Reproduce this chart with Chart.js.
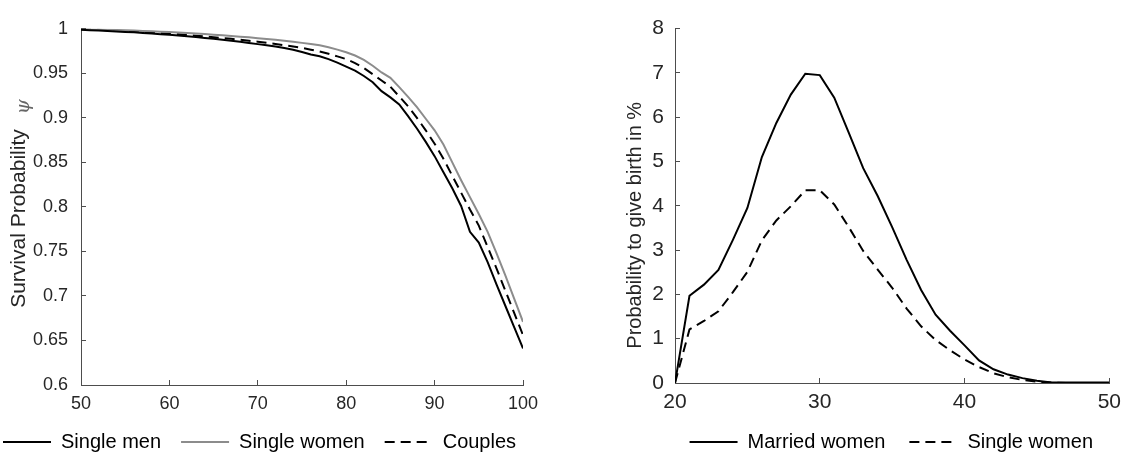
<!DOCTYPE html>
<html>
<head>
<meta charset="utf-8">
<script src="https://cdn.jsdelivr.net/npm/chart.js@4.4.1/dist/chart.umd.min.js"></script>
<style>
  html, body { margin: 0; padding: 0; background: #fff; width: 1133px; height: 457px; overflow: hidden; position: relative; }
  canvas { position: absolute; top: 0; }
  #survival { left: -17px; }
  #fertility { left: 560px; }
</style>
</head>
<body>
<canvas id="survival" width="577" height="462"></canvas>
<canvas id="fertility" width="573" height="462"></canvas>
<script>
// left panel: survival probability by age
const survivalAges = [50, 51, 52, 53, 54, 55, 56, 57, 58, 59, 60, 61, 62, 63, 64, 65, 66, 67, 68, 69,
  70, 71, 72, 73, 74, 75, 76, 77, 78, 79, 80, 81, 82, 83, 84, 85, 86, 87, 88, 89,
  90, 91, 92, 93, 94, 95, 96, 97, 98, 99, 100];
const singleMen = [0.9990, 0.9985, 0.9980, 0.9975, 0.9970, 0.9965, 0.9960, 0.9953, 0.9946, 0.9939,
  0.9932, 0.9924, 0.9916, 0.9907, 0.9898, 0.9888, 0.9877, 0.9866, 0.9854, 0.9841,
  0.9828, 0.9814, 0.9800, 0.9784, 0.9765, 0.9740, 0.9712, 0.9692, 0.9660, 0.9620,
  0.9575, 0.9530, 0.9470, 0.9400, 0.9300, 0.9230, 0.9150, 0.9020, 0.8880, 0.8730,
  0.8570, 0.8390, 0.8210, 0.8010, 0.7720, 0.7600, 0.7380, 0.7130, 0.6890, 0.6650, 0.6410];
const singleWomen = [0.9997, 0.9995, 0.9993, 0.9990, 0.9987, 0.9984, 0.9980, 0.9976, 0.9972, 0.9968,
  0.9963, 0.9958, 0.9953, 0.9947, 0.9941, 0.9934, 0.9927, 0.9920, 0.9912, 0.9904,
  0.9895, 0.9886, 0.9876, 0.9865, 0.9854, 0.9842, 0.9830, 0.9815, 0.9792, 0.9766,
  0.9737, 0.9700, 0.9650, 0.9585, 0.9510, 0.9450, 0.9345, 0.9235, 0.9120, 0.8990,
  0.8860, 0.8700, 0.8500, 0.8300, 0.8110, 0.7920, 0.7720, 0.7480, 0.7230, 0.6970, 0.6710];
const couples = [0.9995, 0.9992, 0.9988, 0.9984, 0.9979, 0.9974, 0.9969, 0.9963, 0.9957, 0.9951,
  0.9945, 0.9938, 0.9931, 0.9923, 0.9915, 0.9906, 0.9897, 0.9887, 0.9877, 0.9866,
  0.9855, 0.9843, 0.9830, 0.9816, 0.9800, 0.9785, 0.9765, 0.9745, 0.9720, 0.9690,
  0.9660, 0.9615, 0.9560, 0.9490, 0.9420, 0.9350, 0.9240, 0.9130, 0.9000, 0.8860,
  0.8710, 0.8540, 0.8350, 0.8160, 0.7970, 0.7790, 0.7550, 0.7310, 0.7060, 0.6810, 0.6560];
const survivalXTicks = [50, 60, 70, 80, 90, 100];
const survivalXLabels = ['50', '60', '70', '80', '90', '100'];
const survivalYTicks = [0.6, 0.65, 0.7, 0.75, 0.8, 0.85, 0.9, 0.95, 1];
const survivalYLabels = ['0.6', '0.65', '0.7', '0.75', '0.8', '0.85', '0.9', '0.95', '1'];

// right panel: probability to give birth (%) by age
const birthAges = [20, 21, 22, 23, 24, 25, 26, 27, 28, 29, 30, 31, 32, 33, 34, 35, 36, 37, 38, 39,
  40, 41, 42, 43, 44, 45, 46, 47, 48, 49, 50];
const marriedWomen = [0, 1.97, 2.22, 2.55, 3.23, 3.95, 5.10, 5.87, 6.51, 6.98, 6.95,
  6.44, 5.65, 4.85, 4.22, 3.52, 2.78, 2.10, 1.54, 1.18, 0.85,
  0.51, 0.31, 0.19, 0.11, 0.05, 0.01, 0.01, 0.01, 0.01, 0.01];
const singleWomenBirth = [0, 1.21, 1.40, 1.62, 2.05, 2.51, 3.22, 3.67, 3.99, 4.35, 4.35,
  4.03, 3.52, 2.98, 2.56, 2.15, 1.68, 1.28, 0.97, 0.74, 0.53,
  0.36, 0.22, 0.13, 0.07, 0.03, 0.01, 0, 0, 0, 0];
const birthXTicks = [20, 30, 40, 50];
const birthXLabels = ['20', '30', '40', '50'];
const birthYTicks = [0, 1, 2, 3, 4, 5, 6, 7, 8];
const birthYLabels = ['0', '1', '2', '3', '4', '5', '6', '7', '8'];

const AXIS = '#4d4d4d';
const TEXT = '#262626';
const FONT = "'Liberation Sans', Arial, sans-serif";

const pairs = (xs, ys) => xs.map((x, i) => ({ x, y: ys[i] }));

function axis(min, max, ticks, labels, size, pad, extra) {
  return Object.assign({
    type: 'linear', min, max,
    afterBuildTicks: s => { s.ticks = ticks.map(v => ({ value: v })); },
    ticks: { color: TEXT, font: { family: FONT, size }, padding: pad, autoSkip: false, maxRotation: 0,
      callback: (v, i) => labels[i] },
    grid: { drawOnChartArea: false, tickLength: -5, color: AXIS, lineWidth: 1 },
    border: { color: AXIS, width: 1 }
  }, extra);
}

function line(label, data, color, dash) {
  return { label, data, borderColor: color, backgroundColor: color, borderWidth: 2,
    borderDash: dash || [], pointRadius: 0, tension: 0, fill: false };
}

// legend keys drawn as short line samples with the dataset's own dash
function legend(align, padding) {
  return { position: 'bottom', align,
    labels: { color: '#000', font: { family: FONT, size: 20 }, padding,
      usePointStyle: true, pointStyle: 'line', pointStyleWidth: 48,
      generateLabels: chart => chart.data.datasets.map((ds, i) => ({
        text: ds.label, datasetIndex: i, hidden: false, fontColor: '#000',
        fillStyle: ds.borderColor, strokeStyle: ds.borderColor,
        lineWidth: ds.borderWidth, lineDash: ds.borderDash, pointStyle: 'line'
      })) } };
}

// math-style psi next to the survival axis title
const psiLabel = {
  id: 'psiLabel',
  afterDraw(chart) {
    const { ctx, chartArea } = chart;
    const s = chart.scales.y;
    ctx.save();
    ctx.translate(s.left + 41, chartArea.top + 78);
    ctx.rotate(-Math.PI / 2);
    ctx.font = "italic 19px 'DejaVu Serif'";
    ctx.fillStyle = '#666';
    ctx.textAlign = 'center';
    ctx.textBaseline = 'middle';
    ctx.fillText('ψ', 0, 0);
    ctx.restore();
  }
};

new Chart(document.getElementById('survival'), {
  type: 'line',
  data: { datasets: [
    line('Single men', pairs(survivalAges, singleMen), '#000'),
    line('Single women', pairs(survivalAges, singleWomen), '#8c8c8c'),
    line('Couples', pairs(survivalAges, couples), '#000', [10, 6])
  ] },
  options: {
    responsive: false, animation: false, devicePixelRatio: 1,
    layout: { padding: { top: 15, left: 0, right: 0, bottom: 0 } },
    scales: {
      x: axis(50, 100, survivalXTicks, survivalXLabels, 18, 13, { afterFit: s => { s.height = 27; } }),
      y: axis(0.6, 1, survivalYTicks, survivalYLabels, 18, 18, {
        title: { display: true, text: 'Survival Probability    ', color: TEXT,
          font: { family: FONT, size: 21 }, padding: { top: 24, bottom: 0 } },
        afterFit: s => { s.width = 98; }
      }),
      y2: { type: 'linear', position: 'right', display: true, grid: { display: false },
        ticks: { display: false }, border: { display: false }, afterFit: s => { s.width = 37; } }
    },
    plugins: { legend: legend('start', 20), tooltip: { enabled: false } }
  },
  plugins: [psiLabel]
});

new Chart(document.getElementById('fertility'), {
  type: 'line',
  data: { datasets: [
    line('Married women', pairs(birthAges, marriedWomen), '#000'),
    line('Single women', pairs(birthAges, singleWomenBirth), '#000', [10, 6])
  ] },
  options: {
    responsive: false, animation: false, devicePixelRatio: 1,
    layout: { padding: { top: 13, left: 0, right: 16, bottom: 0 } },
    scales: {
      x: axis(20, 50, birthXTicks, birthXLabels, 21, 12, { afterFit: s => { s.height = 25; } }),
      y: axis(0, 8, birthYTicks, birthYLabels, 21, 16, {
        title: { display: true, text: 'Probability to give birth in %       ', color: TEXT,
          font: { family: FONT, size: 20 }, padding: { top: 63, bottom: 0 } },
        afterFit: s => { s.width = 115; }
      })
    },
    plugins: { legend: legend('end', 24), tooltip: { enabled: false } }
  }
});
</script>
</body>
</html>
